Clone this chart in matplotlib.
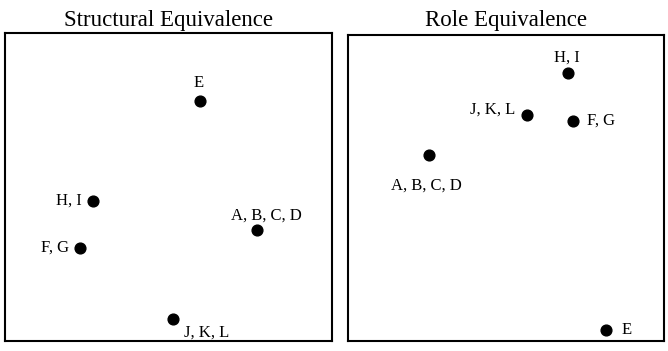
import matplotlib
matplotlib.use("Agg")
import matplotlib.pyplot as plt

plt.rcParams['font.family'] = ['Liberation Serif', 'DejaVu Serif']

# Structural equivalence coordinates
se_labels = ['E', 'H, I', 'F, G', 'A, B, C, D', 'J, K, L']
se_x = [0.596, 0.269, 0.229, 0.771, 0.514]
se_y = [0.779, 0.455, 0.302, 0.360, 0.071]

# Role equivalence coordinates
re_labels = ['H, I', 'J, K, L', 'F, G', 'A, B, C, D', 'E']
re_x = [0.696, 0.566, 0.712, 0.256, 0.816]
re_y = [0.876, 0.739, 0.719, 0.608, 0.036]

# label placement: (dx, dy in points, ha, va)
se_pos = [(-1, 7, 'center', 'bottom'), (-8, 0, 'right', 'center'),
          (-8, 0, 'right', 'center'), (7, 5, 'center', 'bottom'),
          (8, -4, 'left', 'top')]
re_pos = [(-1, 5, 'center', 'bottom'), (-8, 4, 'right', 'center'),
          (10, 0, 'left', 'center'), (-2, -16, 'center', 'top'),
          (11, 0, 'left', 'center')]

fig = plt.figure(figsize=(6.68, 3.51), dpi=100)
ax1 = fig.add_axes([5/668, 10/351, 327/668, 308/351])
ax2 = fig.add_axes([348/668, 10/351, 316/668, 306/351])

def panel(ax, title, xs, ys, labels, pos, pad):
    ax.scatter(xs, ys, s=60, color='black', zorder=3)
    for x, y, lab, (dx, dy, ha, va) in zip(xs, ys, labels, pos):
        ax.annotate(lab, (x, y), xytext=(dx, dy), textcoords='offset points',
                    ha=ha, va=va, fontsize=12)
    ax.set_xlim(0, 1)
    ax.set_ylim(0, 1)
    ax.set_xticks([])
    ax.set_yticks([])
    for sp in ax.spines.values():
        sp.set_linewidth(1.5)
    ax.set_title(title, fontsize=16.5, pad=pad)

panel(ax1, 'Structural Equivalence', se_x, se_y, se_labels, se_pos, 5)
panel(ax2, 'Role Equivalence', re_x, re_y, re_labels, re_pos, 6.5)

fig.savefig('out.png', dpi=100)
